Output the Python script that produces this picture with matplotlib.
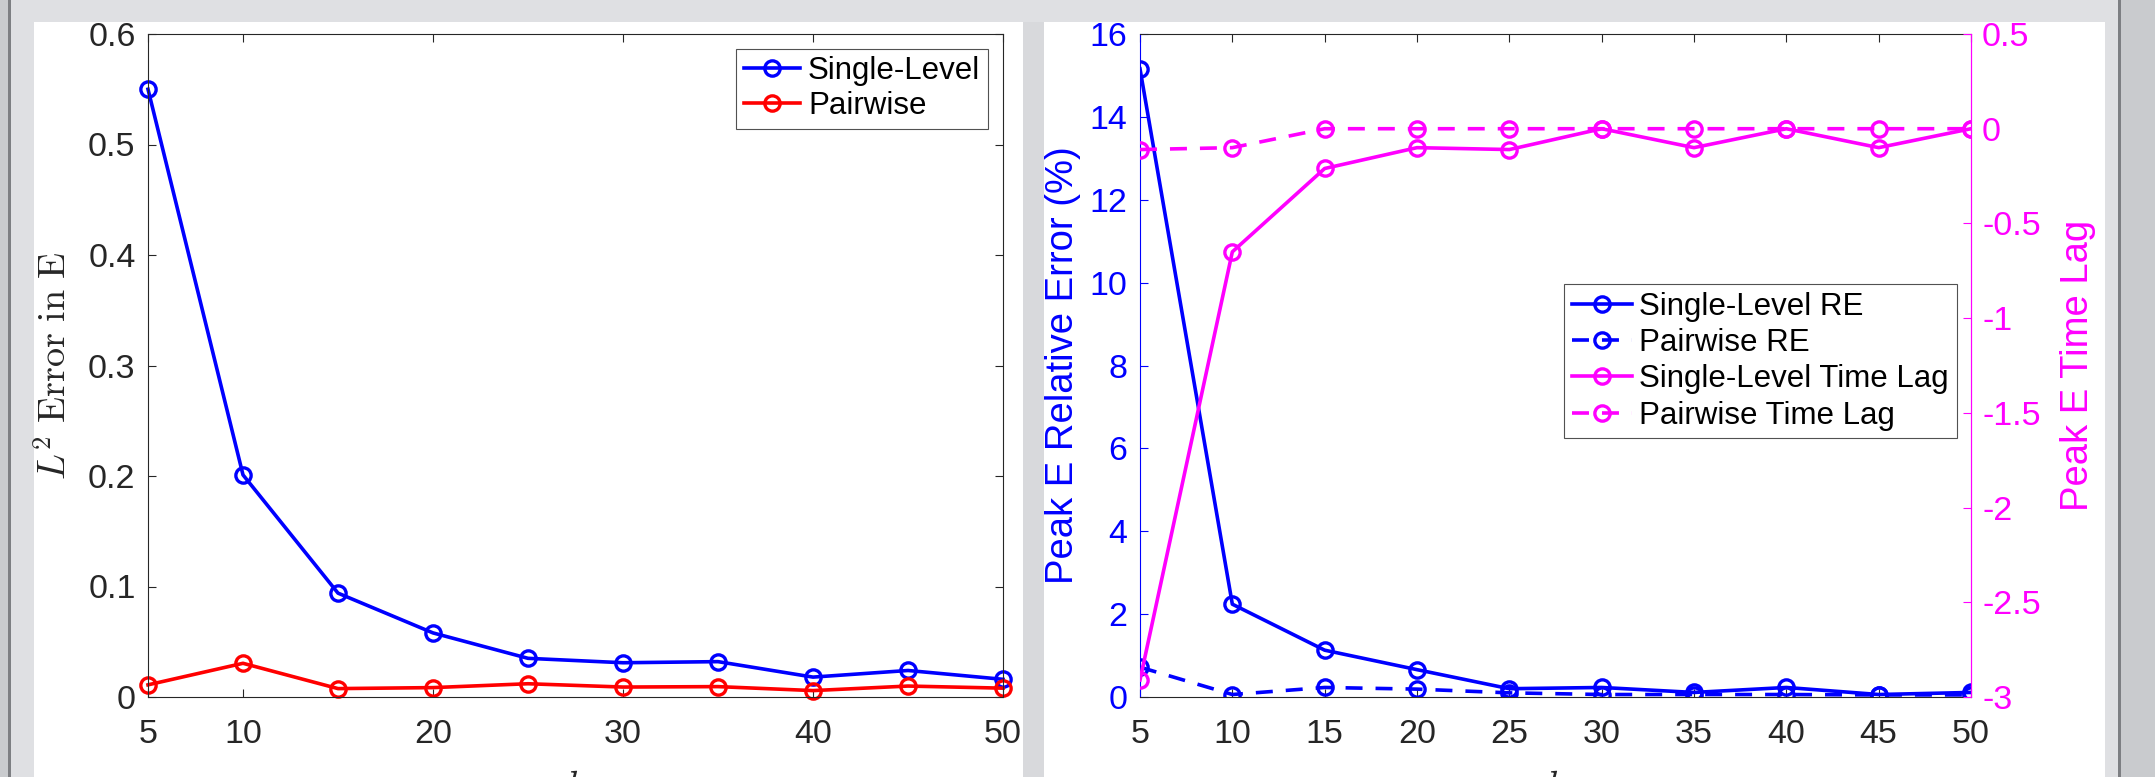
import numpy as np
import matplotlib
matplotlib.use('Agg')
import matplotlib.pyplot as plt
from matplotlib.patches import Rectangle

plt.rcParams['font.family'] = ['Liberation Sans', 'DejaVu Sans']
plt.rcParams['mathtext.fontset'] = 'cm'

# data
k_vals = [5, 10, 15, 20, 25, 30, 35, 40, 45, 50]

l2_single = [0.550, 0.201, 0.094, 0.058, 0.035, 0.031, 0.032, 0.018, 0.024, 0.016]
l2_pair = [0.011, 0.0305, 0.0076, 0.0085, 0.012, 0.009, 0.0094, 0.0058, 0.0099, 0.008]

re_single = [15.16, 2.24, 1.13, 0.66, 0.20, 0.23, 0.11, 0.23, 0.06, 0.11]
re_pair = [0.72, 0.06, 0.23, 0.19, 0.10, 0.06, 0.06, 0.06, 0.05, 0.05]

lag_single = [-2.91, -0.65, -0.21, -0.10, -0.11, 0.0, -0.10, 0.0, -0.10, 0.0]
lag_pair = [-0.11, -0.10, 0.0, 0.0, 0.0, 0.0, 0.0, 0.0, 0.0, 0.0]

left_xticks = [5, 10, 20, 30, 40, 50]
left_yticks = [0, 0.1, 0.2, 0.3, 0.4, 0.5, 0.6]
re_yticks = [0, 2, 4, 6, 8, 10, 12, 14, 16]
lag_yticks = [0.5, 0, -0.5, -1, -1.5, -2, -2.5, -3]

W, H = 2155, 777
DARK = '#262626'
TICK_FS = 24.5
LABEL_FS = 27.5
LEG_FS = 22.5
LW = 2.6
MS = 11
MEW = 2.4
DASH = (0, (4.7, 3.6))


def fmt(v):
    s = f'{v:g}'
    return s.replace('\u2212', '-')


fig = plt.figure(figsize=(W / 100, H / 100), dpi=100)
fig.patch.set_facecolor('#dfe0e3')


def px_rect(x0, x1, y_top, y_bot, color):
    fig.patches.append(Rectangle((x0 / W, 1 - y_bot / H), (x1 - x0) / W, (y_bot - y_top) / H,
                                 transform=fig.transFigure, facecolor=color, edgecolor='none', zorder=-10))


# window chrome around the two figure panels
px_rect(0, 8, 0, H, '#c9cbce')
px_rect(8, 11, 0, H, '#7d7f83')
px_rect(34, 1023, 22, H, 'white')
px_rect(1023, 1044, 22, H, '#d8d9dc')
px_rect(1044, 2105, 22, H, 'white')
px_rect(2118, 2121, 0, H, '#7d7f83')
px_rect(2121, W, 0, H, '#c9cbce')


def style_axes(ax):
    for s in ax.spines.values():
        s.set_color(DARK)
        s.set_linewidth(0.8)
    ax.tick_params(direction='in', length=6, width=0.8, labelsize=TICK_FS, colors=DARK)
    ax.tick_params(axis='x', top=True, pad=16)
    ax.tick_params(axis='y', pad=9)


# left panel: L2 error
ax1 = fig.add_axes([148 / W, 1 - 697 / H, (1003 - 148) / W, (697 - 34) / H])
style_axes(ax1)
ax1.tick_params(axis='y', right=True)
ax1.plot(k_vals, l2_single, color='blue', lw=LW, marker='o', ms=MS, mfc='none', mew=MEW,
         label='Single-Level', clip_on=False)
ax1.plot(k_vals, l2_pair, color='red', lw=LW, marker='o', ms=MS, mfc='none', mew=MEW,
         label='Pairwise', clip_on=False)
ax1.set_xlim(5, 50)
ax1.set_ylim(0, 0.6)
ax1.set_xticks(left_xticks)
ax1.set_xticklabels([fmt(v) for v in left_xticks])
ax1.set_yticks(left_yticks)
ax1.set_yticklabels([fmt(v) for v in left_yticks])
ax1.set_ylabel(r'$L^2\ \mathrm{Error\ in\ E}$', fontsize=LABEL_FS, color=DARK, labelpad=10)
ax1.set_xlabel(r'$k$', fontsize=LABEL_FS, color=DARK, labelpad=14)
leg1 = ax1.legend(loc='upper right', bbox_to_anchor=(0.9825, 0.978), borderaxespad=0,
                  fontsize=LEG_FS, frameon=True, fancybox=False, handlelength=1.8,
                  handletextpad=0.25, labelspacing=0.15, borderpad=0.25)
leg1.get_frame().set_edgecolor(DARK)
leg1.get_frame().set_linewidth(0.8)

# right panel: peak relative error and time lag
ax2 = fig.add_axes([1140 / W, 1 - 697 / H, (1971 - 1140) / W, (697 - 34) / H])
style_axes(ax2)
ax2.spines['left'].set_color('blue')
ax2.spines['right'].set_color('magenta')
ax2.tick_params(axis='y', colors='blue')
ax3 = ax2.twinx()
for side in ['left', 'top', 'bottom']:
    ax3.spines[side].set_visible(False)
ax3.spines['right'].set_color('magenta')
ax3.spines['right'].set_linewidth(0.8)
ax3.tick_params(axis='y', direction='in', length=6, width=0.8, labelsize=TICK_FS, colors='magenta', pad=8)

h1, = ax2.plot(k_vals, re_single, color='blue', lw=LW, marker='o', ms=MS, mfc='none', mew=MEW,
               label='Single-Level RE')
h2, = ax2.plot(k_vals, re_pair, color='blue', lw=LW, ls=DASH, marker='o', ms=MS, mfc='none', mew=MEW,
               label='Pairwise RE')
h3, = ax3.plot(k_vals, lag_single, color='magenta', lw=LW, marker='o', ms=MS, mfc='none', mew=MEW,
               label='Single-Level Time Lag')
h4, = ax3.plot(k_vals, lag_pair, color='magenta', lw=LW, ls=DASH, marker='o', ms=MS, mfc='none', mew=MEW,
               label='Pairwise Time Lag')

ax2.set_xlim(5, 50)
ax2.set_ylim(0, 16)
ax2.set_xticks(k_vals)
ax2.set_xticklabels([fmt(v) for v in k_vals])
ax2.tick_params(axis='x', colors=DARK)
ax2.set_yticks(re_yticks)
ax2.set_yticklabels([fmt(v) for v in re_yticks])
ax3.set_ylim(-3, 0.5)
ax3.set_yticks(lag_yticks)
ax3.set_yticklabels([fmt(v) for v in lag_yticks])
ax2.set_ylabel('Peak E Relative Error (%)', fontsize=LABEL_FS, color='blue', labelpad=6)
ax3.set_ylabel('Peak E Time Lag', fontsize=LABEL_FS, color='magenta', labelpad=14)
ax2.set_xlabel(r'$k$', fontsize=LABEL_FS, color=DARK, labelpad=14)

leg2 = ax3.legend(handles=[h1, h2, h3, h4], loc='upper right', bbox_to_anchor=(0.983, 0.623),
                  borderaxespad=0, fontsize=LEG_FS, frameon=True, fancybox=False, handlelength=1.9,
                  handletextpad=0.25, labelspacing=0.2, borderpad=0.25)
leg2.get_frame().set_edgecolor(DARK)
leg2.get_frame().set_linewidth(0.8)

fig.savefig('out.png', dpi=100, facecolor=fig.get_facecolor())
